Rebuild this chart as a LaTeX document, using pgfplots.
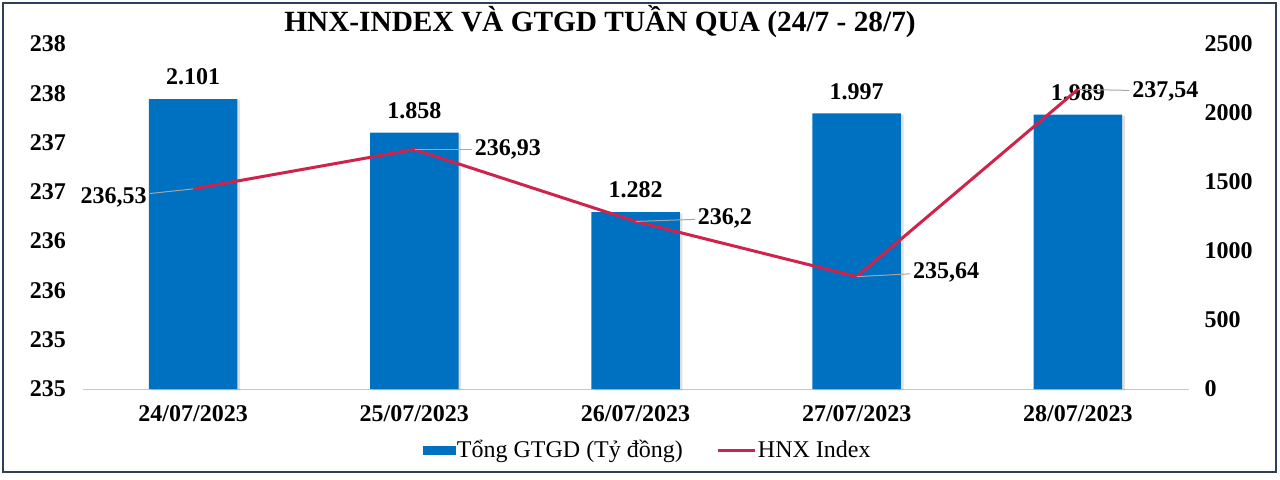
\documentclass[border=0pt]{standalone}
\usepackage{fontspec}
\setmainfont{Liberation Serif}
\usepackage{pgfplots}
\pgfplotsset{compat=1.18}
\usetikzlibrary{shadows}

\definecolor{barblue}{RGB}{0,112,192}
\definecolor{linered}{RGB}{208,35,75}
\definecolor{framecol}{RGB}{46,63,92}
\definecolor{leader}{RGB}{166,166,166}

\newcommand{\tlfont}{\bfseries\fontsize{18}{20}\selectfont}

\begin{document}
\begin{tikzpicture}
\path (0,0) rectangle (960pt,359.25pt);
\draw[framecol, line width=1.5pt] (2.25pt,5.25pt) rectangle (957pt,357pt);
\node[font=\bfseries\fontsize{22}{26}\selectfont] at (450pt,342.75pt)
  {HNX-INDEX VÀ GTGD TUẦN QUA (24/7 - 28/7)};

\pgfplotsset{
  base/.style={
    at={(61.875pt,67.5pt)}, anchor=south west,
    scale only axis, width=829.5pt, height=258.75pt,
    xmin=-0.5, xmax=4.5,
    xtick={0,1,2,3,4},
    major tick length=0pt,
    /pgf/number format/assume math mode=true,
    /pgf/number format/1000 sep={},
    scaled y ticks=false,
    tick label style={font=\tlfont},
    clip=false,
  },
  % data label with a grey leader line: #1 angle, #2 distance (pt), #3 anchor
  lbl/.style n args={3}{draw=none, no marks, forget plot,
    point meta=explicit symbolic, nodes near coords={},
    every node near coord/.style={inner sep=0pt, minimum size=0pt, anchor=center,
      pin={[pin distance=#2pt, pin edge={leader, line width=0.75pt}, anchor=#3,
        font=\tlfont, text=black, inner sep=2pt]#1:\pgfplotspointmeta}}},
}

% bars: Tong GTGD on the right axis
\begin{axis}[base,
  axis x line*=bottom, axis y line*=right,
  x axis line style={draw=gray!45, line width=0.75pt, -},
  y axis line style={draw=none},
  ymin=0, ymax=2500, ytick={0,500,1000,1500,2000,2500},
  yticklabels={0,500,1000,1500,2000,2500},
  yticklabel style={font=\tlfont, xshift=8.5pt},
  xticklabels={24/07/2023,25/07/2023,26/07/2023,27/07/2023,28/07/2023},
  xticklabel style={yshift=-9pt},
  ybar, bar width=0.4,
  nodes near coords, point meta=explicit symbolic,
  every node near coord/.append style={font=\tlfont, black, yshift=7pt},
]
\addplot[fill=barblue, draw=none,
  drop shadow={shadow xshift=2pt, shadow yshift=-1pt, opacity=0.25}]
  coordinates {(0,2101)[2.101] (1,1858)[1.858] (2,1282)[1.282] (3,1997)[1.997] (4,1989)[1.989]};
\end{axis}

% line: HNX Index on the left axis
\begin{axis}[base,
  axis x line=none, axis y line*=left,
  y axis line style={draw=none},
  ymin=234.5, ymax=238,
  ytick={234.5,235,235.5,236,236.5,237,237.5,238},
  yticklabel={\textbf{\pgfmathprintnumber[fixed,precision=0]{\tick}}},
  every y tick label/.append style={font=\tlfont, text=black, xshift=-9pt},
  legend columns=2,
  legend style={at={(0.5,-0.177)}, anchor=center, xshift=9pt, draw=none,
    font=\fontsize{18}{20}\selectfont,
    /tikz/every even column/.append style={column sep=24pt},
    nodes={inner sep=1pt}},
]
\addlegendimage{legend image code/.code={\fill[barblue] (0pt,-3pt) rectangle (24pt,3pt);}}
\addlegendentry{Tổng GTGD (Tỷ đồng)}
\addplot[linered, line width=2.25pt, no marks,
  legend image code/.code={\draw[linered, line width=2.25pt] (0pt,0pt) -- (28pt,0pt);}]
  coordinates {(0,236.53) (1,236.93) (2,236.2) (3,235.64) (4,237.54)};
\addlegendentry{HNX Index}
% data labels with leader lines
\addplot[lbl={191}{33}{east}]   coordinates {(0,236.53) [236,53]};
\addplot[lbl={0}{43}{west}]     coordinates {(1,236.93) [236,93]};
\addplot[lbl={3}{44.5}{west}]   coordinates {(2,236.2) [236,2]};
\addplot[lbl={5}{40}{west}]     coordinates {(3,235.64) [235,64]};
\addplot[lbl={358}{38.5}{west}] coordinates {(4,237.54) [237,54]};
\end{axis}
\end{tikzpicture}
\end{document}
